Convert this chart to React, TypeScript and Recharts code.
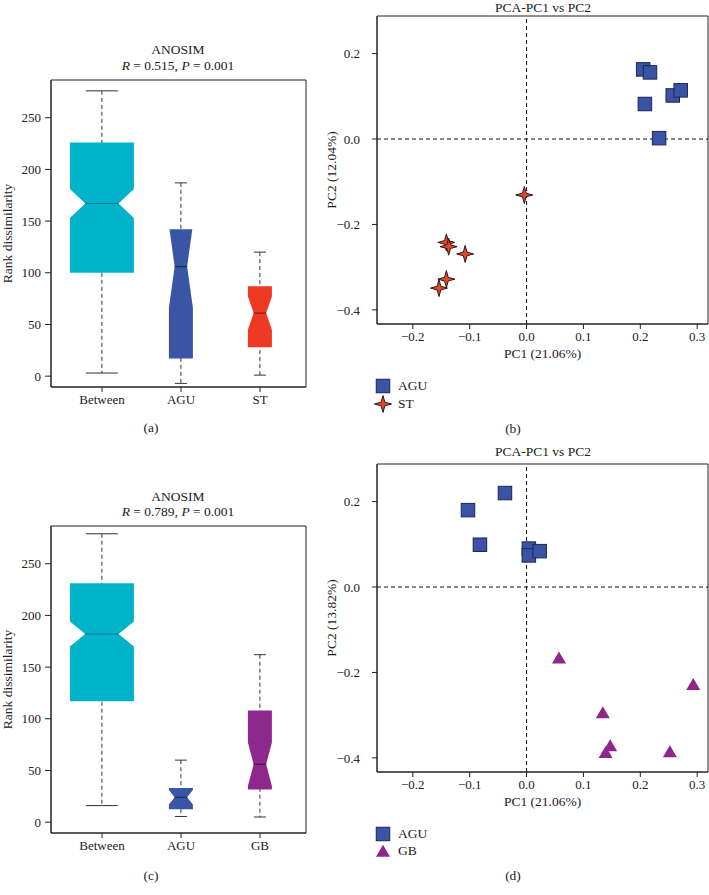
import React from "react";
import {
  Bar,
  ComposedChart,
  ReferenceArea,
  ReferenceLine,
  Scatter,
  ScatterChart,
  XAxis,
  YAxis,
} from "recharts";

// ---- panel (a): ANOSIM AGU vs ST
const anosimACats = ["Between", "AGU", "ST"];
const anosimAMin = [3, -7, 1];
const anosimAQ1 = [100, 17, 28];
const anosimAMedian = [167, 106, 61];
const anosimAQ3 = [226, 142, 87];
const anosimAMax = [276, 187, 120];
const anosimANotch = [14, 40, 16];

// ---- panel (c): ANOSIM AGU vs GB
const anosimCCats = ["Between", "AGU", "GB"];
const anosimCMin = [16, 5.5, 5];
const anosimCQ1 = [117, 12.5, 31.5];
const anosimCMedian = [182, 24, 56];
const anosimCQ3 = [231, 33, 108];
const anosimCMax = [279, 60, 162];
const anosimCNotch = [12, 7, 21];

const rankTicks = [0, 50, 100, 150, 200, 250];
const rankDomain: [number, number] = [-10.5, 286.5];

// ---- panel (b): PCA AGU / ST
const pcaB_aguX = [0.205, 0.217, 0.208, 0.257, 0.271, 0.233];
const pcaB_aguY = [0.163, 0.156, 0.082, 0.102, 0.114, 0.002];
const pcaB_stX = [-0.004, -0.141, -0.137, -0.108, -0.141, -0.154];
const pcaB_stY = [-0.131, -0.242, -0.252, -0.269, -0.328, -0.349];

// ---- panel (d): PCA AGU / GB
const pcaD_aguX = [-0.103, -0.038, -0.082, 0.004, 0.004, 0.023];
const pcaD_aguY = [0.18, 0.22, 0.099, 0.09, 0.074, 0.084];
const pcaD_gbX = [0.057, 0.293, 0.134, 0.147, 0.139, 0.252];
const pcaD_gbY = [-0.168, -0.23, -0.296, -0.373, -0.389, -0.387];

const pcXTicks = [-0.2, -0.1, 0, 0.1, 0.2, 0.3];
const pcYTicks = [-0.4, -0.2, 0, 0.2];
const pcXDomain: [number, number] = [-0.263, 0.319];
const pcYDomain: [number, number] = [-0.433, 0.288];

const serif = '"Liberation Serif", "DejaVu Serif", serif';
const ink = "#222";

const groupColors: Record<string, { fill: string; line: string; half: number }> = {
  Between: { fill: "#00B3CB", line: "#00758A", half: 32 },
  AGU: { fill: "#3A55A5", line: "#1C2A5E", half: 12 },
  ST: { fill: "#EE3A25", line: "#7A1A10", half: 12 },
  GB: { fill: "#8E288C", line: "#4E124C", half: 12 },
};

type BoxRow = {
  name: string;
  range: [number, number];
  q1: number;
  median: number;
  q3: number;
  notch: number;
};

function buildBoxRows(
  cats: string[],
  min: number[],
  q1: number[],
  med: number[],
  q3: number[],
  max: number[],
  notch: number[]
): BoxRow[] {
  return cats.map((name, i) => ({
    name,
    range: [min[i], max[i]],
    q1: q1[i],
    median: med[i],
    q3: q3[i],
    notch: notch[i],
  }));
}

function NotchedBox(props: any) {
  const { x, y, width, height, payload } = props;
  const p = payload as BoxRow;
  const c = groupColors[p.name];
  const top = Math.min(y, y + height);
  const bot = Math.max(y, y + height);
  const [lo, hi] = p.range;
  const py = (v: number) => bot - ((v - lo) / (hi - lo)) * (bot - top);
  const cx = x + width / 2;
  const hw = c.half;
  const nw = hw * 0.52;
  const wAt = (v: number) => {
    const d = Math.abs(v - p.median);
    if (d >= p.notch) return hw;
    return nw + ((hw - nw) * d) / p.notch;
  };
  const nh = p.median + p.notch;
  const nl = p.median - p.notch;
  const left: [number, number][] = [];
  left.push([wAt(p.q3), py(p.q3)]);
  if (nh < p.q3) left.push([hw, py(nh)]);
  left.push([nw, py(p.median)]);
  if (nl > p.q1) left.push([hw, py(nl)]);
  left.push([wAt(p.q1), py(p.q1)]);
  const pts = [
    ...left.map(([w, yy]) => `${cx - w},${yy}`),
    ...left
      .slice()
      .reverse()
      .map(([w, yy]) => `${cx + w},${yy}`),
  ].join(" ");
  const cap = hw / 2;
  return (
    <g>
      <line x1={cx} x2={cx} y1={py(hi)} y2={py(lo)} stroke="#333" strokeWidth={1} strokeDasharray="4 3" />
      <line x1={cx - cap} x2={cx + cap} y1={py(hi)} y2={py(hi)} stroke="#333" strokeWidth={1} />
      <line x1={cx - cap} x2={cx + cap} y1={py(lo)} y2={py(lo)} stroke="#333" strokeWidth={1} />
      <polygon points={pts} fill={c.fill} stroke="none" />
      <line x1={cx - nw} x2={cx + nw} y1={py(p.median)} y2={py(p.median)} stroke={c.line} strokeWidth={1.2} />
    </g>
  );
}

const tickStyle = { fill: ink, fontSize: 13, fontFamily: serif };

function BoxPanel({ rows, top }: { rows: BoxRow[]; top: number }) {
  const last = rows.length - 1;
  return (
    <div style={{ position: "absolute", left: 0, top }}>
      <ComposedChart width={320} height={430} data={rows} margin={{ top: 80, right: 14, bottom: 10, left: 0 }}>
        {/* hidden index axis, only used to draw the plot frame edge to edge */}
        <XAxis xAxisId="frame" type="number" domain={[0, last]} allowDataOverflow hide />
        <ReferenceArea
          xAxisId="frame"
          x1={0}
          x2={last}
          y1={rankDomain[0]}
          y2={rankDomain[1]}
          fill="none"
          fillOpacity={0}
          stroke={ink}
          strokeWidth={1}
          ifOverflow="visible"
        />
        <XAxis
          dataKey="name"
          type="category"
          padding={{ left: 11.5, right: 6.5 }}
          height={33}
          tickSize={5}
          tickMargin={3}
          axisLine={{ stroke: ink }}
          tickLine={{ stroke: ink }}
          tick={tickStyle}
        />
        <YAxis
          type="number"
          domain={rankDomain}
          ticks={rankTicks}
          width={51}
          tickSize={6}
          tickMargin={4}
          axisLine={{ stroke: ink }}
          tickLine={{ stroke: ink }}
          tick={tickStyle}
          label={{
            value: "Rank dissimilarity",
            angle: -90,
            position: "insideLeft",
            offset: 0,
            dx: 7,
            style: { textAnchor: "middle", fill: ink, fontSize: 13.5, fontFamily: serif },
          }}
        />
        <Bar dataKey="range" shape={NotchedBox} isAnimationActive={false} />
      </ComposedChart>
    </div>
  );
}

function Square(props: any) {
  const { cx, cy } = props;
  const s = 13.5;
  return <rect x={cx - s / 2} y={cy - s / 2} width={s} height={s} fill="#3A53A4" stroke="#1B2656" strokeWidth={1} />;
}

function starPath(cx: number, cy: number, r: number, ri: number) {
  const pts: string[] = [];
  for (let i = 0; i < 8; i++) {
    const a = (Math.PI / 4) * i - Math.PI / 2;
    const rr = i % 2 === 0 ? r : ri;
    pts.push(`${cx + rr * Math.cos(a)},${cy + rr * Math.sin(a)}`);
  }
  return `M${pts.join("L")}Z`;
}

function Star(props: any) {
  const { cx, cy } = props;
  return <path d={starPath(cx, cy, 8.5, 2.6)} fill="#E8432B" stroke="#2B1A18" strokeWidth={1} />;
}

function Triangle(props: any) {
  const { cx, cy } = props;
  const w = 14;
  const h = 12;
  return (
    <path
      d={`M${cx},${cy - h * 0.6}L${cx + w / 2},${cy + h * 0.4}L${cx - w / 2},${cy + h * 0.4}Z`}
      fill="#8E268C"
    />
  );
}

const fmtPc = (v: number) => v.toFixed(1).replace("-", "\u2212");

type Pt = { x: number; y: number };
const zipPts = (xs: number[], ys: number[]): Pt[] => xs.map((x, i) => ({ x, y: ys[i] }));

function PcaPanel({
  top,
  yLabel,
  groups,
}: {
  top: number;
  yLabel: string;
  groups: { name: string; data: Pt[]; shape: (p: any) => React.ReactElement }[];
}) {
  return (
    <div style={{ position: "absolute", left: 320, top }}>
      <ScatterChart width={389} height={362} margin={{ top: 16, right: 1, bottom: 0, left: 0 }}>
        <ReferenceArea
          x1={pcXDomain[0]}
          x2={pcXDomain[1]}
          y1={pcYDomain[0]}
          y2={pcYDomain[1]}
          fill="none"
          fillOpacity={0}
          stroke={ink}
          strokeWidth={1}
          ifOverflow="visible"
        />
        <XAxis
          type="number"
          dataKey="x"
          domain={pcXDomain}
          ticks={pcXTicks}
          tickFormatter={fmtPc}
          allowDataOverflow
          height={38}
          tickSize={5}
          tickMargin={3}
          axisLine={{ stroke: ink }}
          tickLine={{ stroke: ink }}
          tick={tickStyle}
          label={{
            value: "PC1 (21.06%)",
            position: "insideBottom",
            offset: 0,
            dy: -4,
            style: { fill: ink, fontSize: 13.5, fontFamily: serif },
          }}
        />
        <YAxis
          type="number"
          dataKey="y"
          domain={pcYDomain}
          ticks={pcYTicks}
          tickFormatter={fmtPc}
          allowDataOverflow
          width={57}
          tickSize={5}
          tickMargin={12}
          axisLine={{ stroke: ink }}
          tickLine={{ stroke: ink }}
          tick={tickStyle}
          label={{
            value: yLabel,
            angle: -90,
            position: "insideLeft",
            offset: 0,
            dx: 11,
            style: { textAnchor: "middle", fill: ink, fontSize: 13.5, fontFamily: serif },
          }}
        />
        <ReferenceLine x={0} stroke="#111" strokeDasharray="4 3" strokeWidth={1} />
        <ReferenceLine y={0} stroke="#111" strokeDasharray="4 3" strokeWidth={1} />
        {groups.map((g) => (
          <Scatter key={g.name} name={g.name} data={g.data} shape={g.shape} isAnimationActive={false} />
        ))}
      </ScatterChart>
    </div>
  );
}

function Txt({
  x,
  y,
  size = 13.5,
  anchor = "middle",
  children,
}: {
  x: number;
  y: number;
  size?: number;
  anchor?: "middle" | "start";
  children: React.ReactNode;
}) {
  return (
    <div
      style={{
        position: "absolute",
        left: x,
        top: y,
        transform: anchor === "middle" ? "translate(-50%, -50%)" : "translate(0, -50%)",
        fontFamily: serif,
        fontSize: size,
        color: ink,
        whiteSpace: "nowrap",
        lineHeight: 1,
      }}
    >
      {children}
    </div>
  );
}

function LegendRow({ x, y, label, icon }: { x: number; y: number; label: string; icon: React.ReactNode }) {
  return (
    <>
      <svg style={{ position: "absolute", left: x - 9, top: y - 9 }} width={18} height={18}>
        {icon}
      </svg>
      <Txt x={x + 15} y={y} anchor="start">
        {label}
      </Txt>
    </>
  );
}

export default function App() {
  const rowsA = buildBoxRows(anosimACats, anosimAMin, anosimAQ1, anosimAMedian, anosimAQ3, anosimAMax, anosimANotch);
  const rowsC = buildBoxRows(anosimCCats, anosimCMin, anosimCQ1, anosimCMedian, anosimCQ3, anosimCMax, anosimCNotch);

  return (
    <div style={{ position: "absolute", left: 0, top: 0, width: 709, height: 895, background: "#fff" }}>
      {/* (a) */}
      <Txt x={178} y={50}>ANOSIM</Txt>
      <Txt x={178} y={66}>
        <i>R</i> = 0.515, <i>P</i> = 0.001
      </Txt>
      <BoxPanel rows={rowsA} top={0} />
      <Txt x={151} y={428}>(a)</Txt>

      {/* (b) */}
      <Txt x={543} y={7.5}>PCA-PC1 vs PC2</Txt>
      <PcaPanel
        top={0}
        yLabel="PC2 (12.04%)"
        groups={[
          { name: "AGU", data: zipPts(pcaB_aguX, pcaB_aguY), shape: Square },
          { name: "ST", data: zipPts(pcaB_stX, pcaB_stY), shape: Star },
        ]}
      />
      <LegendRow x={383} y={386} label="AGU" icon={<Square cx={9} cy={9} />} />
      <LegendRow x={383} y={404} label="ST" icon={<Star cx={9} cy={9} />} />
      <Txt x={513} y={429}>(b)</Txt>

      {/* (c) */}
      <Txt x={178} y={497}>ANOSIM</Txt>
      <Txt x={178} y={512}>
        <i>R</i> = 0.789, <i>P</i> = 0.001
      </Txt>
      <BoxPanel rows={rowsC} top={446} />
      <Txt x={151} y={876}>(c)</Txt>

      {/* (d) */}
      <Txt x={543} y={452}>PCA-PC1 vs PC2</Txt>
      <PcaPanel
        top={448}
        yLabel="PC2 (13.82%)"
        groups={[
          { name: "AGU", data: zipPts(pcaD_aguX, pcaD_aguY), shape: Square },
          { name: "GB", data: zipPts(pcaD_gbX, pcaD_gbY), shape: Triangle },
        ]}
      />
      <LegendRow x={383} y={834} label="AGU" icon={<Square cx={9} cy={9} />} />
      <LegendRow x={383} y={851} label="GB" icon={<Triangle cx={9} cy={10} />} />
      <Txt x={513} y={876}>(d)</Txt>
    </div>
  );
}
